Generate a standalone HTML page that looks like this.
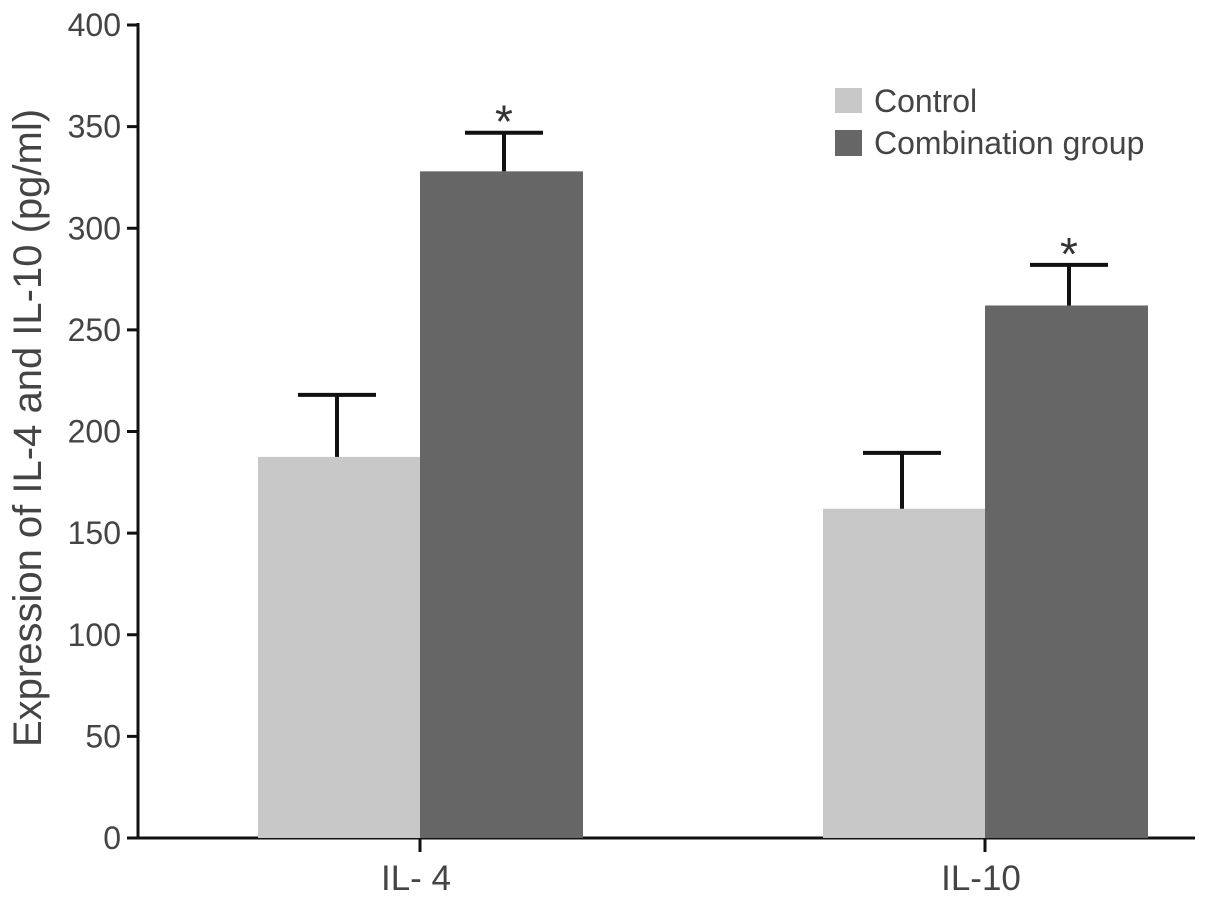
<!DOCTYPE html>
<html><head><meta charset="utf-8"><style>
body{margin:0;background:#fff}
svg{display:block;font-family:"Liberation Sans",Arial,sans-serif}
</style></head><body>
<svg id="chart" width="1205" height="901">
<g id="axes"></g>
<g id="bars"></g>
<g id="legend">
  <rect x="835" y="88" width="27" height="25" fill="#c8c8c8"/>
  <text x="874" y="112" font-size="32" fill="#444">Control</text>
  <rect x="835" y="130" width="27" height="26" fill="#666"/>
  <text x="874" y="154" font-size="32" fill="#444">Combination group</text>
</g>
<text transform="translate(41,428) rotate(-90)" text-anchor="middle" font-size="40" fill="#444">Expression of IL-4 and IL-10 (pg/ml)</text>
</svg>
<script>
const categories=["IL- 4","IL-10"];
const controlValues=[187.5,162];
const controlErrors=[30.5,27.5];
const comboValues=[328,262];
const comboErrors=[19,20];
const significant=[true,true];
const yTicks=[0,50,100,150,200,250,300,350,400];
const NS="http://www.w3.org/2000/svg";
const y0=838,yTop=25,axX=138;
function y(v){return y0-(v/400)*(y0-yTop);}
const groupCenters=[420,985];
const barW=162;
function mk(tag,attrs,parent,text){const e=document.createElementNS(NS,tag);for(const k in attrs)e.setAttribute(k,attrs[k]);if(text!==undefined)e.textContent=text;parent.appendChild(e);return e;}
const ax=document.getElementById('axes'),bars=document.getElementById('bars');
yTicks.forEach(t=>{
  const l=mk('line',{x1:127,x2:axX,y1:y(t),y2:y(t),stroke:'#111','stroke-width':3},ax);
  
  
  const tx=mk('text',{x:121,y:y(t)+11,'text-anchor':'end','font-size':32,fill:'#444'},ax,String(t));
  
  
});
categories.forEach((c,i)=>{
  const cx=groupCenters[i];
  const r1=mk('rect',{x:cx-barW,y:y(controlValues[i]),width:barW,height:y0-y(controlValues[i]),fill:'#c8c8c8'},bars);
  
  
  const r2=mk('rect',{x:cx,y:y(comboValues[i]),width:barW+1,height:y0-y(comboValues[i]),fill:'#666'},bars);
  
  
  [[cx-barW/2-2,controlValues[i],controlErrors[i]],[cx+barW/2+3,comboValues[i],comboErrors[i]]].forEach(([ex,v,e])=>{
    const g=mk('g',{stroke:'#111','stroke-width':4},bars);
    
    
    mk('line',{x1:ex,x2:ex,y1:y(v),y2:y(v+e)},g);
    mk('line',{x1:ex-39,x2:ex+39,y1:y(v+e),y2:y(v+e)},g);
  });
  if(significant[i]){
    const s=mk('text',{x:cx+barW/2+3,y:y(comboValues[i]+comboErrors[i])+5,'text-anchor':'middle','font-size':46,fill:'#333'},bars,'*');
    
    
  }
  const tk=mk('line',{x1:cx,x2:cx,y1:y0,y2:852,stroke:'#111','stroke-width':3},ax);
  
  
  const lb=mk('text',{x:cx-4,y:890,'text-anchor':'middle','font-size':35,fill:'#444'},ax,c);
  
  
});
const ya=mk('line',{x1:axX,x2:axX,y1:yTop-2,y2:y0+1.5,stroke:'#111','stroke-width':3},ax);


const xa=mk('line',{x1:axX-1.5,x2:1195,y1:y0,y2:y0,stroke:'#111','stroke-width':3},ax);


</script>
</body></html>
